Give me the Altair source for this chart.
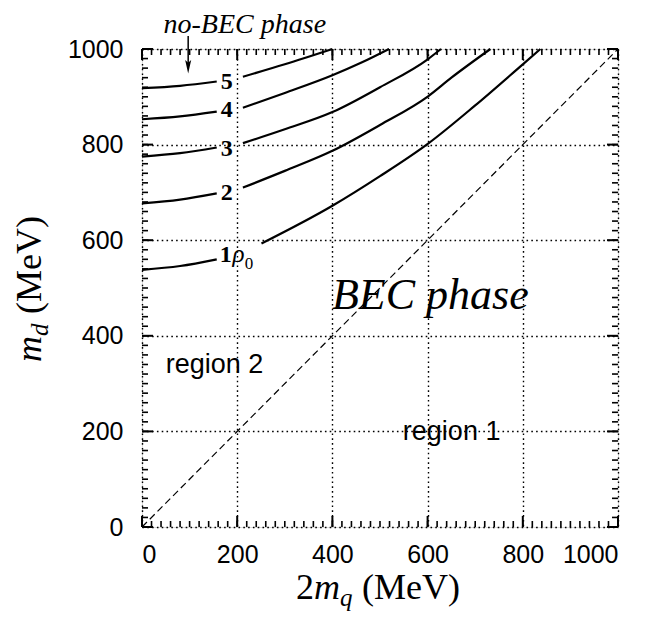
import altair as alt
import pandas as pd

# ---------------- data ----------------
# contour curves (labelled 1..5 rho0); each split into a left and right piece around the label
c1_left_x = [0, 80, 157]
c1_left_y = [538, 546, 560]
c1_right_x = [251, 400, 500, 601, 700, 800, 837]
c1_right_y = [593, 672, 734, 802, 882, 968, 1000]

c2_left_x = [0, 80, 157]
c2_left_y = [677, 685, 698]
c2_right_x = [212, 300, 400, 500, 601, 650, 732]
c2_right_y = [710, 745, 787, 841, 901, 940, 1000]

c3_left_x = [0, 80, 157]
c3_left_y = [775, 782, 794]
c3_right_x = [212, 300, 400, 500, 601, 628]
c3_right_y = [803, 832, 868, 920, 979, 1000]

c4_left_x = [0, 80, 157]
c4_left_y = [853, 859, 869]
c4_right_x = [212, 300, 400, 460, 519]
c4_right_y = [877, 908, 945, 971, 1000]

c5_left_x = [0, 80, 157]
c5_left_y = [918, 923, 932]
c5_right_x = [212, 300, 400]
c5_right_y = [942, 968, 1000]

diag_x = [0, 1000]
diag_y = [0, 1000]

axis_values = [0, 200, 400, 600, 800, 1000]
minor_ticks = list(range(0, 1001, 20))
major_ticks = [0, 200, 400, 600, 800, 1000]

curve_labels = ["5", "4", "3", "2", "1"]
curve_label_x = [178, 178, 178, 178, 176]
curve_label_y = [916, 858, 776, 684, 554]

W, H = 476, 478
DOM = [0, 1000]
xs = alt.Scale(domain=DOM, nice=False, zero=False)
ys = alt.Scale(domain=DOM, nice=False, zero=False)

# --------------- build tables ---------------
rows = []
pieces = [
    (c1_left_x, c1_left_y), (c1_right_x, c1_right_y),
    (c2_left_x, c2_left_y), (c2_right_x, c2_right_y),
    (c3_left_x, c3_left_y), (c3_right_x, c3_right_y),
    (c4_left_x, c4_left_y), (c4_right_x, c4_right_y),
    (c5_left_x, c5_left_y), (c5_right_x, c5_right_y),
]
for i, (px, py) in enumerate(pieces):
    for k, (a, b) in enumerate(zip(px, py)):
        rows.append({"seg": i, "order": k, "x": a, "y": b})
curves_df = pd.DataFrame(rows)

LABEL_FONT = "Liberation Sans Narrow, Liberation Sans"

X = alt.X("x:Q", scale=xs, axis=alt.Axis(values=axis_values, ticks=False, domain=False, format="d",
                                           grid=True, gridColor="black", gridDash=[1.6, 3.2],
                                           gridWidth=1.4, gridOpacity=1, title=None,
                                           labelFont=LABEL_FONT, labelFontSize=25,
                                           labelColor="black", labelPadding=15))
Y = alt.Y("y:Q", scale=ys, axis=alt.Axis(values=axis_values, ticks=False, domain=False, format="d",
                                           grid=True, gridColor="black", gridDash=[1.6, 3.2],
                                           gridWidth=1.4, gridOpacity=1, title=None,
                                           labelFont=LABEL_FONT, labelFontSize=25,
                                           labelColor="black", labelPadding=19))

curves = alt.Chart(curves_df).mark_line(color="black", strokeWidth=2.2, interpolate="monotone").encode(
    x=X, y=Y, detail="seg:N", order="order:Q")

diag = alt.Chart(pd.DataFrame({"x": diag_x, "y": diag_y})).mark_line(
    color="black", strokeWidth=1.2, strokeDash=[7, 4]).encode(
    x=alt.X("x:Q", scale=xs), y=alt.Y("y:Q", scale=ys))

# inside ticks on four sides
minor_df = pd.DataFrame({"v": minor_ticks})
major_df = pd.DataFrame({"v": major_ticks})

def tick_layers(df, L, sw):
    b = alt.Chart(df).mark_rule(color="black", strokeWidth=sw).encode(
        x=alt.X("v:Q", scale=xs), y=alt.value(H), y2=alt.value(H - L))
    t = alt.Chart(df).mark_rule(color="black", strokeWidth=sw).encode(
        x=alt.X("v:Q", scale=xs), y=alt.value(0), y2=alt.value(L))
    l = alt.Chart(df).mark_rule(color="black", strokeWidth=sw).encode(
        y=alt.Y("v:Q", scale=ys), x=alt.value(0), x2=alt.value(L))
    r = alt.Chart(df).mark_rule(color="black", strokeWidth=sw).encode(
        y=alt.Y("v:Q", scale=ys), x=alt.value(W), x2=alt.value(W - L))
    return [b, t, l, r]

ticks = tick_layers(minor_df, 6, 1.6) + tick_layers(major_df, 11, 2)

# curve labels
lab_df = pd.DataFrame({"t": curve_labels, "x": curve_label_x, "y": curve_label_y})
labels = alt.Chart(lab_df).mark_text(font="Liberation Serif", fontSize=24, fontWeight="bold",
                                     baseline="alphabetic", align="center", color="black").encode(
    x=alt.X("x:Q", scale=xs), y=alt.Y("y:Q", scale=ys), text="t:N")

rho = alt.Chart(pd.DataFrame({"t": ["ρ"], "x": [190], "y": [554]})).mark_text(
    font="Liberation Serif", fontSize=25, fontStyle="italic", align="left", baseline="alphabetic",
    color="black").encode(x=alt.X("x:Q", scale=xs), y=alt.Y("y:Q", scale=ys), text="t:N")
rho0 = alt.Chart(pd.DataFrame({"t": ["0"], "x": [216], "y": [540]})).mark_text(
    font="Liberation Serif", fontSize=17, align="left", baseline="alphabetic",
    color="black").encode(x=alt.X("x:Q", scale=xs), y=alt.Y("y:Q", scale=ys), text="t:N")

def ann(text, x, y, font, size, style="normal", align="left"):
    return alt.Chart(pd.DataFrame({"t": [text], "x": [x], "y": [y]})).mark_text(
        font=font, fontSize=size, fontStyle=style, align=align, baseline="alphabetic",
        color="black").encode(x=alt.X("x:Q", scale=xs), y=alt.Y("y:Q", scale=ys), text="t:N")

bec = ann("BEC phase", 399, 456, "Liberation Serif", 44, "italic")
reg2 = ann("region 2", 50, 322, LABEL_FONT, 27)
reg1 = ann("region 1", 548, 182, LABEL_FONT, 27)
nobec = ann("no-BEC phase", 216, 1033, "Liberation Serif", 28, "italic", "center")

arrow_line = alt.Chart(pd.DataFrame({"x": [97], "y": [1027], "y2": [962]})).mark_rule(
    color="black", strokeWidth=1.5).encode(
    x=alt.X("x:Q", scale=xs), y=alt.Y("y:Q", scale=ys), y2="y2:Q")
arrow_head = alt.Chart(pd.DataFrame({"x": [97], "y": [963]})).mark_point(
    shape="M0,1L-0.45,-1L0,-0.6L0.45,-1Z", size=180, filled=True, color="black", opacity=1).encode(
    x=alt.X("x:Q", scale=xs), y=alt.Y("y:Q", scale=ys))

# axis titles as pieces of text (pixel space)
def ptext(text, x, y, size, style="normal", angle=0):
    return alt.Chart(pd.DataFrame({"t": [text]})).mark_text(
        font="Liberation Serif", fontSize=size, fontStyle=style, align="left",
        baseline="alphabetic", angle=angle, color="black").encode(
        x=alt.value(x), y=alt.value(y), text="t:N")

bx = 296 - 142
by = 599 - 49
xt = [ptext("2", bx, by, 36), ptext("m", bx + 18, by, 36, "italic"),
      ptext("q", bx + 44, by + 7, 25, "italic"), ptext("(MeV)", bx + 66, by, 36)]

lx = 41 - 142
ly = 362 - 49
yt = [ptext("m", lx, ly, 36, "italic", 270), ptext("d", lx + 7, ly - 26, 25, "italic", 270),
      ptext("(MeV)", lx, ly - 48, 36, "normal", 270)]

chart = alt.layer(curves, diag, *ticks, labels, rho, rho0, bec, reg2, reg1, nobec,
                  arrow_line, arrow_head, *xt, *yt).properties(
    width=W, height=H,
    autosize=alt.AutoSizeParams(type="none"),
    padding={"left": 142, "top": 49, "right": 33, "bottom": 92},
).configure_view(stroke="black", strokeWidth=2.5).configure(background="white")

chart.save("out.html", embed_options={"renderer": "svg", "actions": False})
